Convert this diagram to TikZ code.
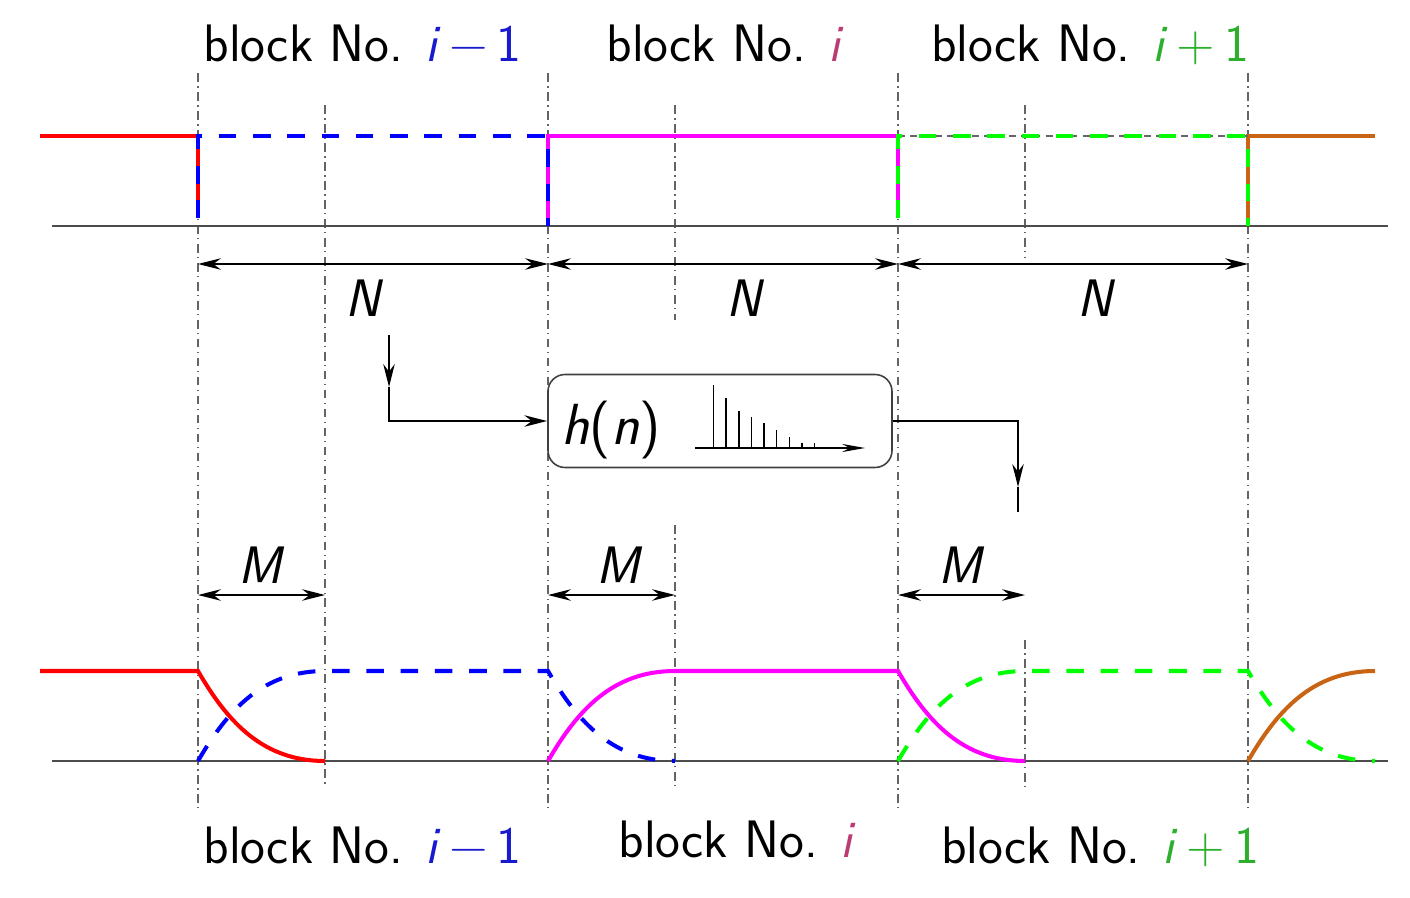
\documentclass[tikz,border=0pt]{standalone}
\usepackage{fontspec}
\definecolor{sigred}{RGB}{255,0,0}
\definecolor{sigblue}{RGB}{0,0,255}
\definecolor{sigmag}{RGB}{255,0,255}
\definecolor{siggreen}{RGB}{0,255,0}
\definecolor{sigbrown}{RGB}{200,100,20}
\definecolor{lblblue}{RGB}{25,25,205}
\definecolor{lblpurple}{RGB}{185,60,115}
\definecolor{lblgreen}{RGB}{45,175,45}
\definecolor{guide}{RGB}{100,100,100}
\usetikzlibrary{arrows.meta,calc}
\newcommand{\iv}{\textit{i}}

\begin{document}
\begin{tikzpicture}[
  lbl/.style={font=\sffamily\fontsize{30}{36}\selectfont,inner sep=0pt,anchor=base},
  guideline/.style={guide,line width=0.8pt,dash pattern=on 5pt off 2.5pt on 0.8pt off 2.5pt},
  sig/.style={line width=2.3pt},
  sigdash/.style={line width=2.3pt,dash pattern=on 10pt off 9.5pt},
  dim/.style={{Stealth[length=13pt,width=6.5pt]}-{Stealth[length=13pt,width=6.5pt]},line width=0.9pt},
  flow/.style={-{Stealth[length=13pt,width=6.5pt]},line width=0.9pt},
  filt/.style={draw=black!75,line width=0.9pt,rounded corners=0.34cm,minimum width=6.88cm,minimum height=1.86cm}]
  \useasboundingbox (0,0) rectangle (28.2,17.94);

  % guide lines
  \foreach \x in {3.96,10.96,17.96,24.96}
    \draw[guideline] (\x,16.48) -- (\x,1.78);
  \draw[guideline] (6.5,15.84) -- (6.5,2.18);
  \draw[guideline] (13.5,15.84) -- (13.5,11.54);
  \draw[guideline] (13.5,7.44) -- (13.5,2.18);
  \draw[guideline] (20.5,15.84) -- (20.5,12.78);
  \draw[guideline] (20.5,5.14) -- (20.5,2.18);

  % axes
  \draw[black!70,line width=0.9pt] (1.04,13.42) -- (27.76,13.42);
  \draw[black!70,line width=0.9pt] (1.04,2.72) -- (27.76,2.72);

  % input blocks
  \draw[sig,sigred] (0.8,15.22) -- (3.96,15.22) -- (3.96,13.58);
  \draw[sig,sigmag] (10.96,13.42) -- (10.96,15.22) -- (17.96,15.22) -- (17.96,13.58);
  \draw[sig,sigbrown] (24.96,13.42) -- (24.96,15.22) -- (27.5,15.22);
  \draw[black!60,line width=0.7pt,dash pattern=on 4pt off 3pt] (17.96,15.22) -- (24.96,15.22);
  \draw[sigdash,sigblue] (3.96,13.58) -- (3.96,15.22) -- (10.96,15.22) -- (10.96,13.42);
  \draw[sigdash,siggreen] (17.96,13.58) -- (17.96,15.22) -- (24.96,15.22) -- (24.96,13.42);

  % output blocks
  \draw[sig,sigred] (0.8,4.52) -- (3.96,4.52) to[out=-60,in=180] (6.5,2.72);
  \draw[sig,sigmag] (10.96,2.72) to[out=60,in=180] (13.5,4.52) -- (17.96,4.52) to[out=-60,in=180] (20.5,2.72);
  \draw[sig,sigbrown] (24.96,2.72) to[out=60,in=180] (27.5,4.52);
  \draw[sigdash,sigblue] (3.96,2.72) to[out=60,in=180] (6.5,4.52) -- (10.96,4.52) to[out=-60,in=180] (13.5,2.72);
  \draw[sigdash,siggreen] (17.96,2.72) to[out=60,in=180] (20.5,4.52) -- (24.96,4.52) to[out=-60,in=180] (27.5,2.72);

  % block lengths
  \foreach \i/\x in {0/3.96,1/10.96,2/17.96,3/24.96}
    \coordinate (n\i) at (\x,12.66);
  \foreach \i/\x in {0/3.96,1/10.96,2/17.96}
    \coordinate (m\i) at (\x,6.04);
  \foreach \i/\x in {0/6.5,1/13.5,2/20.5}
    \coordinate (mm\i) at (\x,6.04);
  \draw[dim] (n0) -- (n1);
  \draw[dim] (n1) -- (n2);
  \draw[dim] (n2) -- (n3);
  \draw[dim] (m0) -- (mm0);
  \draw[dim] (m1) -- (mm1);
  \draw[dim] (m2) -- (mm2);
  \node[lbl] (N1) at (7.3,11.62) {\textit{N}};
  \node[lbl] (N2) at (14.92,11.62) {\textit{N}};
  \node[lbl] (N3) at (21.94,11.62) {\textit{N}};
  \node[lbl] (M1) at (5.24,6.28) {\textit{M}};
  \node[lbl] (M2) at (12.4,6.28) {\textit{M}};
  \node[lbl] (M3) at (19.24,6.28) {\textit{M}};

  % filter
  \node[filt] (filt) at (14.4,9.52) {};
  \node[lbl,font=\sffamily\fontsize{33}{38}\selectfont] (hn) at (12.22,9.06) {\textit{h}(\textit{n})};
  \draw[-{Stealth[length=13pt,width=4.6pt]},line width=0.8pt] (13.9,8.98) -- (17.3,8.98);
  \foreach \k/\h in {0/1.27,1/1.0,2/0.75,3/0.62,4/0.5,5/0.37,6/0.23,7/0.11,8/0.11}
    \draw[line width=0.8pt] (14.27+0.253*\k,8.98) -- ++(0,\h);
  \coordinate (nin) at (7.78,11.24);
  \coordinate (ntip) at (7.78,10.2);
  \coordinate (otip) at (20.36,8.2);
  \coordinate (oend) at (20.36,7.7);
  \draw[flow] (nin) -- (ntip);
  \draw[flow] (ntip) |- (filt.west);
  \draw[flow] (filt.east) -| (otip);
  \draw[line width=0.9pt] (otip) -- (oend);

  % block names
  \node[lbl] (top1) at (7.25,16.7) {block No. {\color{lblblue}\iv\,−\,1}};
  \node[lbl] (top2) at (14.5,16.7) {block No. {\color{lblpurple}\iv}};
  \node[lbl] (top3) at (21.8,16.7) {block No. {\color{lblgreen}\iv\,+\,1}};
  \node[lbl] (bot1) at (7.25,0.68) {block No. {\color{lblblue}\iv\,−\,1}};
  \node[lbl] (bot2) at (14.74,0.8) {block No. {\color{lblpurple}\iv}};
  \node[lbl] (bot3) at (22.0,0.68) {block No. {\color{lblgreen}\iv\,+\,1}};
\end{tikzpicture}
\end{document}
